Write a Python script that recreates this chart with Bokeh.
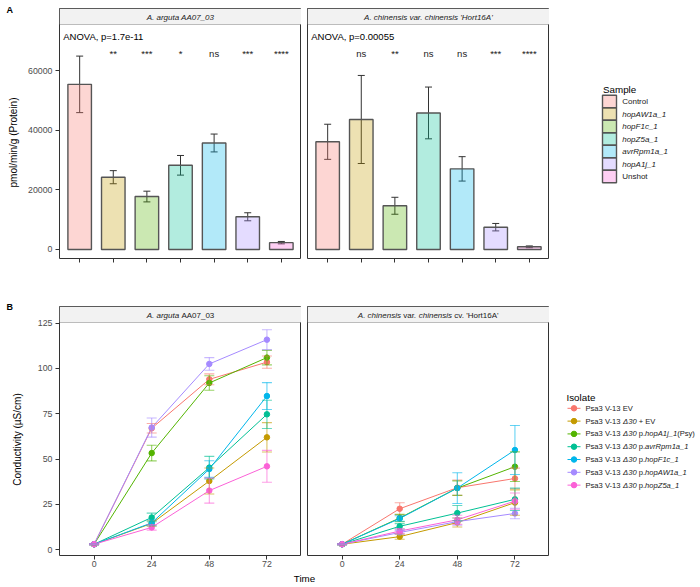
import math
from bokeh.plotting import figure
from bokeh.models import (Range1d, FixedTicker, Label, BoxAnnotation, Whisker, TeeHead,
                          ColumnDataSource, CustomJSTickFormatter)
from bokeh.layouts import row, column
from bokeh.embed import file_html
from bokeh.resources import INLINE
from bokeh.core.properties import value

FONT = "Liberation Sans"

# ------------------------------------------------------------------ data (panel A)
samples = ["Control", "hopAW1a_1", "hopF1c_1", "hopZ5a_1", "avrRpm1a_1", "hopA1j_1", "Unshot"]
sample_italic = [False, True, True, True, True, True, False]
sample_colors = ["#F8766D", "#C49A00", "#53B400", "#00C094", "#00B6EB", "#A58AFF", "#FB61D7"]
argu_mean = [55500, 24300, 17800, 28300, 35800, 11000, 2300]
argu_se = [9500, 2200, 1800, 3300, 3000, 1350, 400]
chin_mean = [36200, 43700, 14700, 45900, 27100, 7500, 900]
chin_se = [5900, 14800, 2850, 8700, 4100, 1250, 300]
argu_sig = ["", "**", "***", "*", "ns", "***", "****"]
chin_sig = ["", "ns", "**", "ns", "ns", "***", "****"]
argu_anova = "ANOVA, p=1.7e-11"
chin_anova = "ANOVA, p=0.00055"
sig_y = 65900
A_yticks = [0, 20000, 40000, 60000]

# ------------------------------------------------------------------ data (panel B)
times = [0, 24, 48, 72]
iso_colors = ["#F8766D", "#C49A00", "#53B400", "#00C094", "#00B6EB", "#A58AFF", "#FB61D7"]
iso_labels = [
    [("Psa3 V-13 EV", "normal")],
    [("Psa3 V-13 ", "normal"), ("\u039430", "italic"), (" + EV", "normal")],
    [("Psa3 V-13 ", "normal"), ("\u039430", "italic"), (" p.", "normal"), ("hopA1j_1", "italic"), ("(Psy)", "normal")],
    [("Psa3 V-13 ", "normal"), ("\u039430", "italic"), (" p.", "normal"), ("avrRpm1a_1", "italic")],
    [("Psa3 V-13 ", "normal"), ("\u039430", "italic"), (" p.", "normal"), ("hopF1c_1", "italic")],
    [("Psa3 V-13 ", "normal"), ("\u039430", "italic"), (" p.", "normal"), ("hopAW1a_1", "italic")],
    [("Psa3 V-13 ", "normal"), ("\u039430", "italic"), (" p.", "normal"), ("hopZ5a_1", "italic")],
]
argu_cond = [
    [3, 67.0, 94.0, 103.5],
    [3, 14.5, 37.9, 62.0],
    [3, 53.3, 92.0, 106.0],
    [3, 17.8, 45.3, 74.7],
    [3, 14.8, 44.5, 84.8],
    [3, 67.4, 102.5, 115.9],
    [3, 12.3, 32.6, 46.0],
]
argu_err = [
    [0.3, 2.6, 3.0, 3.4],
    [0.3, 1.5, 7.2, 8.1],
    [0.3, 4.3, 4.0, 4.0],
    [0.3, 2.4, 6.2, 7.8],
    [0.3, 1.6, 4.6, 7.4],
    [0.3, 5.3, 3.5, 5.5],
    [0.3, 1.5, 6.9, 8.8],
]
chin_cond = [
    [3, 22.6, 34.2, 39.3],
    [3, 7.2, 15.0, 26.0],
    [3, 17.5, 34.0, 45.8],
    [3, 12.9, 20.2, 27.8],
    [3, 17.2, 34.0, 55.0],
    [3, 9.5, 15.5, 20.0],
    [3, 10.3, 16.5, 26.8],
]
chin_err = [
    [0.3, 3.3, 4.2, 5.7],
    [0.3, 1.4, 2.5, 7.0],
    [0.3, 2.0, 4.0, 8.2],
    [0.3, 1.5, 4.2, 6.2],
    [0.3, 1.5, 8.5, 13.5],
    [0.3, 1.0, 2.0, 2.9],
    [0.3, 1.2, 2.5, 4.5],
]
B_yticks = [0, 25, 50, 75, 100, 125]

# ------------------------------------------------------------------ geometry (page has no margin)
W_SIDE = 24                      # column with panel letters and y titles
W_L, W_R, W_LEG = 277, 248, 150
W_MAIN = W_L + W_R + W_LEG
H_A, H_B, H_T = 288, 282, 16
H_ALL = H_A + H_B + H_T
FW = 242
A_TOP, A_BOT = 8, 30
B_TOP, B_BOT = 18, 15
BL_LEFT = 35
STRIP = 16
xA = (0.4, len(samples) + 0.6)
yA = (-3025, 81000)
xB = (-14.4, 86.4)
yB = (-3.2, 134.2)

CW = {' ': 278, "'": 191, '(': 333, ')': 333, '+': 584, '-': 333, '.': 278, '/': 278,
      '_': 556, ',': 278, '=': 584, '\u0394': 667,
      'A': 667, 'B': 667, 'C': 722, 'E': 667, 'F': 611, 'H': 722, 'I': 278, 'N': 722,
      'O': 778, 'P': 667, 'R': 722, 'S': 667, 'T': 611, 'V': 667, 'W': 944, 'Z': 611,
      'a': 556, 'b': 556, 'c': 500, 'd': 556, 'e': 556, 'f': 278, 'g': 556, 'h': 556,
      'i': 222, 'j': 222, 'k': 500, 'l': 222, 'm': 833, 'n': 556, 'o': 556, 'p': 556,
      'r': 333, 's': 500, 't': 278, 'u': 556, 'v': 500, 'w': 722, 'x': 500, 'y': 500}


def tw(s, size):
    return sum(CW.get(c, 556) for c in s) / 1000.0 * size


class Frame:
    def __init__(self, xr, yr, fw, fh):
        self.xr, self.yr, self.fw, self.fh = xr, yr, fw, fh

    def x(self, px):
        return self.xr[0] + px * (self.xr[1] - self.xr[0]) / self.fw

    def y(self, py):
        return self.yr[1] - py * (self.yr[1] - self.yr[0]) / self.fh


def rich_label(p, fr, pieces, cx_px, cy_px, size, color="#1A1A1A", baseline="middle"):
    total = sum(tw(t, size) for t, _ in pieces)
    x = cx_px - total / 2.0
    for t, style in pieces:
        lead = len(t) - len(t.lstrip(" "))
        s = t.strip(" ")
        if s:
            p.add_layout(Label(x=fr.x(x + tw(" " * lead, size)), y=fr.y(cy_px), text=s,
                               text_font=FONT, text_font_size="%.1fpx" % size,
                               text_font_style=style, text_color=color,
                               text_baseline=baseline, text_align="left"))
        x += tw(t, size)


def style_axis(ax, label_size="8.8px"):
    ax.axis_line_color = None
    ax.major_tick_line_color = "#333333"
    ax.major_tick_line_width = 1
    ax.major_tick_in = 0
    ax.major_tick_out = 4
    ax.minor_tick_line_color = None
    ax.major_label_text_font = FONT
    ax.major_label_text_font_size = label_size
    ax.major_label_text_color = "#4D4D4D"
    ax.major_label_standoff = 3


def make_facet(xr, yr, height, btop, bbot, left):
    p = figure(width=W_L if left else W_R, height=height,
               x_range=Range1d(*xr), y_range=Range1d(*yr),
               output_backend="svg", toolbar_location=None,
               y_axis_location="left" if left else None,
               min_border_left=BL_LEFT if left else 6, min_border_right=0,
               min_border_top=btop, min_border_bottom=bbot)
    p.grid.visible = False
    p.outline_line_color = "#333333"
    p.outline_line_width = 1
    p.background_fill_color = "white"
    p.border_fill_color = "white"
    fr = Frame(xr, yr, FW, height - btop - bbot)
    p.add_layout(BoxAnnotation(bottom=fr.y(STRIP), fill_color="#F2F2F2", fill_alpha=1.0,
                               line_color="#333333", line_width=1, level="underlay"))
    return p, fr


bar_x = list(range(1, len(samples) + 1))


def panel_A(means, ses, sig, anova_txt, strip_pieces, left):
    p, fr = make_facet(xA, yA, H_A, A_TOP, A_BOT, left)
    src = ColumnDataSource(dict(
        x=bar_x, top=means,
        upper=[m + s for m, s in zip(means, ses)],
        lower=[m - s for m, s in zip(means, ses)],
        fill=sample_colors))
    p.vbar(x="x", top="top", bottom=0, width=0.7, source=src, fill_color="fill",
           fill_alpha=0.3, line_color="#555555", line_width=1.4)
    head = dict(size=7, line_color="#333333", line_width=1)
    p.add_layout(Whisker(source=src, base="x", upper="upper", lower="lower",
                         line_color="#333333", line_width=1,
                         upper_head=TeeHead(**head), lower_head=TeeHead(**head)))
    p.text(x=bar_x[1:], y=[sig_y] * (len(bar_x) - 1), text=sig[1:],
           text_font=value(FONT), text_font_size="9.5px", text_color="#1A1A1A",
           text_align="center", text_baseline="alphabetic")
    p.add_layout(Label(x=fr.x(3.7), y=fr.y(27.5), text=anova_txt, text_font=FONT,
                       text_font_size="9.5px", text_color="black",
                       text_baseline="alphabetic", text_align="left"))
    rich_label(p, fr, strip_pieces, FW / 2.0, STRIP / 2.0 + 0.5, 8)
    p.xaxis.ticker = FixedTicker(ticks=bar_x)
    p.xaxis.formatter = CustomJSTickFormatter(code="return ''")
    for ax in p.axis:
        style_axis(ax)
    if left:
        p.yaxis.ticker = FixedTicker(ticks=A_yticks)
    return p


def panel_B(cond, err, strip_pieces, left):
    p, fr = make_facet(xB, yB, H_B, B_TOP, B_BOT, left)
    for vals, errs, col in zip(cond, err, iso_colors):
        src = ColumnDataSource(dict(t=times, v=vals,
                                    up=[v + e for v, e in zip(vals, errs)],
                                    lo=[v - e for v, e in zip(vals, errs)]))
        head = dict(size=10, line_color=col, line_alpha=0.6, line_width=1.1)
        p.add_layout(Whisker(source=src, base="t", upper="up", lower="lo",
                             line_color=col, line_alpha=0.6, line_width=1.1, level="glyph",
                             upper_head=TeeHead(**head), lower_head=TeeHead(**head)))
    for vals, col in zip(cond, iso_colors):
        p.line(x=times, y=vals, line_color=col, line_width=1)
    for vals, col in zip(cond, iso_colors):
        p.scatter(x=times, y=vals, size=5.5, fill_color=col, line_color=col)
    rich_label(p, fr, strip_pieces, FW / 2.0, STRIP / 2.0 + 0.5, 8)
    p.xaxis.ticker = FixedTicker(ticks=times)
    for ax in p.axis:
        style_axis(ax)
    p.xaxis.major_label_standoff = 1
    if left:
        p.yaxis.ticker = FixedTicker(ticks=B_yticks)
    return p


def blank_fig(w, h):
    f = figure(width=w, height=h, x_range=Range1d(0, w), y_range=Range1d(h, 0),
               x_axis_location=None, y_axis_location=None, min_border=0,
               output_backend="svg", toolbar_location=None)
    f.grid.visible = False
    f.outline_line_color = None
    f.background_fill_color = "white"
    f.border_fill_color = "white"
    return f


# ---- side column: panel letters and y-axis titles
side = blank_fig(W_SIDE, H_ALL)
side.text(x=[6, 6], y=[9.6, 306], text=["A", "B"], text_font=value(FONT),
          text_font_size="9px", text_font_style="bold", text_color="black",
          text_baseline="alphabetic")
side.text(x=[12.5, 17], y=[142, 439], text=["pmol/min/g (Protein)", "Conductivity (\u00b5S/cm)"],
          angle=math.pi / 2, text_font=value(FONT), text_font_size="10px",
          text_color="black", text_align="center", text_baseline="middle")

# ---- panel A
pA1 = panel_A(argu_mean, argu_se, argu_sig, argu_anova,
              [("A. arguta AA07_03", "italic")], True)
pA2 = panel_A(chin_mean, chin_se, chin_sig, chin_anova,
              [("A. chinensis var. chinensis 'Hort16A'", "italic")], False)

legA = blank_fig(W_LEG, H_A)
legA.text(x=[53.5], y=[93.5], text=["Sample"], text_font=value(FONT), text_font_size="9.8px",
          text_color="black", text_baseline="alphabetic")
key_h = 14.4
tops = [100 + i * key_h for i in range(len(samples))]
legA.quad(left=53, right=67, top=tops, bottom=[t + key_h for t in tops],
          fill_color=sample_colors, fill_alpha=0.3, line_color="#555555", line_width=1.4)
srcLA = ColumnDataSource(dict(x=[72.7] * len(samples), y=[t + key_h / 2 for t in tops],
                              text=samples,
                              style=["italic" if it else "normal" for it in sample_italic]))
legA.text(x="x", y="y", text="text", source=srcLA, text_font=value(FONT),
          text_font_size="8px", text_font_style="style", text_color="#1A1A1A",
          text_baseline="middle")

# ---- panel B
pB1 = panel_B(argu_cond, argu_err, [("A. arguta", "italic"), (" AA07_03", "normal")], True)
pB2 = panel_B(chin_cond, chin_err,
              [("A. chinensis", "italic"), (" var. ", "normal"), ("chinensis", "italic"),
               (" cv. 'Hort16A'", "normal")], False)

legB = blank_fig(W_LEG, H_B)
legB.text(x=[17], y=[103], text=["Isolate"], text_font=value(FONT), text_font_size="9.8px",
          text_color="black", text_baseline="alphabetic")
rows_y = [115.3 + i * 14.5 for i in range(len(iso_colors))]
legB.segment(x0=18, x1=31, y0=rows_y, y1=rows_y, line_color=iso_colors, line_width=1)
legB.scatter(x=[24.5] * len(rows_y), y=rows_y, size=5.5, fill_color=iso_colors,
             line_color=iso_colors)
LSZ = 7.6
for pieces, yy in zip(iso_labels, rows_y):
    xx = 36.0
    for t, style in pieces:
        lead = len(t) - len(t.lstrip(" "))
        s = t.strip(" ")
        legB.text(x=[xx + tw(" " * lead, LSZ)], y=[yy], text=[s], text_font=value(FONT),
                  text_font_size="%.1fpx" % LSZ, text_font_style=style, text_color="#1A1A1A",
                  text_baseline="middle")
        xx += tw(t, LSZ)

# ---- shared x title (centred under both facets)
tfig = blank_fig(W_MAIN, H_T)
tfig.text(x=[(BL_LEFT + (W_L + 6 + FW)) / 2.0], y=[H_T / 2.0], text=["Time"],
          text_font=value(FONT), text_font_size="9.8px", text_color="black",
          text_align="center", text_baseline="middle")

layout = row(side, column(row(pA1, pA2, legA), row(pB1, pB2, legB), tfig))
open("out.html", "w").write(file_html(layout, INLINE))
